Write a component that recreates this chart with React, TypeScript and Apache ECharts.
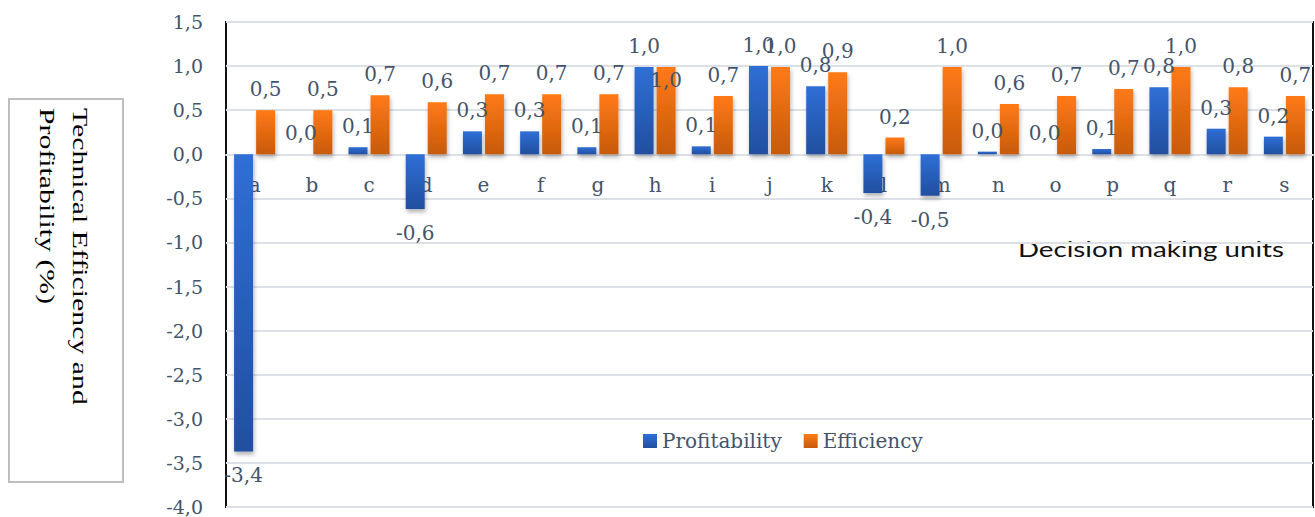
import React, { useEffect, useRef } from "react";
import * as echarts from "echarts";

const categories = ["a", "b", "c", "d", "e", "f", "g", "h", "i", "j", "k", "l", "m", "n", "o", "p", "q", "r", "s"];
const profitability = [-3.37, 0.0, 0.08, -0.62, 0.26, 0.26, 0.08, 0.99, 0.09, 1.0, 0.77, -0.44, -0.47, 0.03, 0.0, 0.06, 0.76, 0.29, 0.2];
const efficiency = [0.5, 0.5, 0.67, 0.59, 0.68, 0.68, 0.68, 0.99, 0.66, 0.99, 0.93, 0.19, 0.99, 0.57, 0.66, 0.74, 0.99, 0.76, 0.66];
const efficiencyLabelInside = ["h"];
const seriesNames = ["Profitability", "Efficiency"];
const yAxisTitleLines = ["Technical Efficiency and", "Profitability (%)"];
const xAxisTitle = "Decision making units";
const yMin = -4;
const yMax = 1.5;
const yStep = 0.5;

const fmt = (v: number) => v.toFixed(1).replace(".", ",");

const LABEL_COLOR = "#44546A";
const SERIF = "DejaVu Serif";
const W = 1315;
const H = 517;
const GRID_TOP = 22;
const GRID_BOTTOM = 10;

export default function App() {
  const ref = useRef<HTMLDivElement>(null);
  useEffect(() => {
    if (!ref.current) return;
    const chart = echarts.init(ref.current, null, { renderer: "svg" });
    const blue = new echarts.graphic.LinearGradient(0, 0, 0, 1, [
      { offset: 0, color: "#2F6FD6" },
      { offset: 1, color: "#214F9F" },
    ]);
    const orange = new echarts.graphic.LinearGradient(0, 0, 0, 1, [
      { offset: 0, color: "#FF7A14" },
      { offset: 1, color: "#C75A0E" },
    ]);
    const labelBase = {
      show: true,
      color: LABEL_COLOR,
      fontFamily: SERIF,
      fontSize: 20,
      formatter: (p: any) => fmt(p.value),
    };
    const mkData = (vals: number[], inside: string[]) =>
      vals.map((v, i) => ({
        value: v,
        label: inside.includes(categories[i])
          ? { position: "insideTop", distance: 3 }
          : v < 0
          ? { position: "bottom", distance: 14 }
          : { position: "top", distance: 11 },
      }));
    const shadow = {
      shadowColor: "rgba(0,0,0,0.3)",
      shadowBlur: 4,
      shadowOffsetX: 1,
      shadowOffsetY: 3,
    };
    // the category axis sits on the zero line: shift it up from the grid's bottom edge
    const plotH = H - GRID_TOP - GRID_BOTTOM;
    const zeroY = GRID_TOP + (plotH * yMax) / (yMax - yMin);
    const axisOffset = -(H - GRID_BOTTOM - zeroY);
    chart.setOption({
      animation: false,
      grid: {
        left: 226,
        top: GRID_TOP,
        right: 2,
        bottom: GRID_BOTTOM,
        show: true,
        borderColor: "#111",
        borderWidth: 2,
        containLabel: false,
        outerBoundsMode: "none",
      },
      legend: {
        data: seriesNames,
        left: 638,
        top: 426,
        icon: "rect",
        itemWidth: 14,
        itemHeight: 14,
        itemGap: 22,
        textStyle: { color: LABEL_COLOR, fontFamily: SERIF, fontSize: 20 },
      },
      xAxis: {
        type: "category",
        data: categories,
        position: "bottom",
        offset: axisOffset,
        axisLine: { onZero: false, lineStyle: { color: "#DDE1E7", width: 2 } },
        axisTick: { show: false },
        axisLabel: { color: LABEL_COLOR, fontFamily: SERIF, fontSize: 20, margin: 21 },
        splitLine: { show: false },
      },
      yAxis: {
        type: "value",
        min: yMin,
        max: yMax,
        interval: yStep,
        axisLine: { show: false },
        axisTick: { show: false },
        axisLabel: {
          color: LABEL_COLOR,
          fontFamily: SERIF,
          fontSize: 19,
          margin: 23,
          formatter: (v: number) => fmt(v),
        },
        splitLine: { lineStyle: { color: "#DDE1E7", width: 2 } },
      },
      series: [
        {
          name: seriesNames[0],
          type: "bar",
          barWidth: 19,
          barGap: "16%",
          data: mkData(profitability, []),
          itemStyle: { color: blue, ...shadow },
          label: labelBase,
        },
        {
          name: seriesNames[1],
          type: "bar",
          barWidth: 19,
          barGap: "16%",
          data: mkData(efficiency, efficiencyLabelInside),
          itemStyle: { color: orange, ...shadow },
          label: labelBase,
        },
      ],
      graphic: [
        {
          type: "rect",
          left: 8,
          top: 98,
          shape: { width: 114, height: 383 },
          style: { fill: "#fff", stroke: "#BFBFBF", lineWidth: 2 },
        },
        {
          type: "text",
          x: 80,
          y: 108,
          rotation: -Math.PI / 2,
          scaleX: 1.42,
          style: {
            text: yAxisTitleLines[0],
            fill: "#000",
            font: "21px 'Liberation Serif'",
            align: "left",
            verticalAlign: "middle",
          },
        },
        {
          type: "text",
          x: 47,
          y: 108,
          rotation: -Math.PI / 2,
          scaleX: 1.42,
          style: {
            text: yAxisTitleLines[1],
            fill: "#000",
            font: "21px 'Liberation Serif'",
            align: "left",
            verticalAlign: "middle",
          },
        },
        {
          type: "text",
          x: 1151,
          y: 248,
          scaleX: 1.26,
          style: {
            text: xAxisTitle,
            fill: "#111",
            font: "22px Lato",
            align: "center",
            verticalAlign: "middle",
          },
        },
      ],
    });
    return () => chart.dispose();
  }, []);
  return (
    <div
      ref={ref}
      style={{ position: "fixed", left: 0, top: 0, width: W, height: H, background: "#fff" }}
    />
  );
}
